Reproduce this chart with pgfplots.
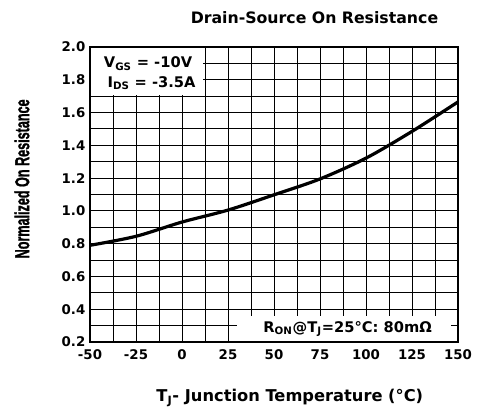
\documentclass[border=0pt]{standalone}
\usepackage{fontspec}
\setmainfont{DejaVu Sans}
\newfontfamily\narrowfont[BoldFeatures={FakeBold=1.5}]{Liberation Sans}
\usepackage{pgfplots}
\pgfplotsset{compat=1.18}
\begin{document}
\begin{tikzpicture}
\begin{axis}[
  scale only axis,
  clip=false,
  width=276pt, height=221.25pt,
  xmin=-50, xmax=150, ymin=0.2, ymax=2.0,
  xtick={-50,-25,...,150},
  ytick={0.2,0.4,...,2.0},
  minor tick num=1,
  grid=both,
  major grid style={black, line width=0.7pt},
  minor grid style={black, line width=0.7pt},
  axis line style={black, line width=1.1pt},
  tick align=inside,
  major tick length=4pt, minor tick length=4pt,
  tick style={black, line width=0.7pt},
  /pgf/number format/assume math mode=true,
  yticklabel style={/pgf/number format/fixed, /pgf/number format/fixed zerofill, /pgf/number format/precision=1},
  ticklabel style={font=\bfseries\fontsize{10}{12}\selectfont},
  xticklabel style={yshift=-2pt},
]
\fill[white] (axis cs:-49.6,1.71) rectangle (axis cs:11.5,1.996);
\fill[white] (axis cs:30,0.204) rectangle (axis cs:146,0.36);
\addplot[black, line width=2.4pt, smooth] coordinates {
(-50,0.79) (-25,0.845) (0,0.932) (25,1.005) (50,1.098) (75,1.195) (100,1.322) (125,1.485) (150,1.665)
};
\node[anchor=west, font=\bfseries\fontsize{11}{12}\selectfont] at (axis cs:-45,1.9) {V\textsubscript{GS} = -10V};
\node[anchor=west, font=\bfseries\fontsize{11}{12}\selectfont] at (axis cs:-43,1.78) {I\textsubscript{DS} = -3.5A};
\node[font=\bfseries\fontsize{11}{12}\selectfont] at (axis cs:90,0.28) {R\textsubscript{ON}@T\textsubscript{J}=25°C: 80mΩ};
\node[font=\bfseries\fontsize{11.8}{13}\selectfont, yshift=21.75pt] at (rel axis cs:0.61,1) {Drain-Source On Resistance};
\node[font=\bfseries\fontsize{12.2}{13}\selectfont, yshift=-42pt] at (rel axis cs:0.543,0) {T\textsubscript{J}- Junction Temperature (°C)};
\node[font=\narrowfont\bfseries\fontsize{15}{16}\selectfont, rotate=90, yshift=51pt] at (rel axis cs:0,0.553) {\scalebox{0.63}[1]{Normalized On Resistance}};
\end{axis}
\path (-67.5pt,-49.5pt) rectangle (291pt,256.5pt);
\end{tikzpicture}
\end{document}
